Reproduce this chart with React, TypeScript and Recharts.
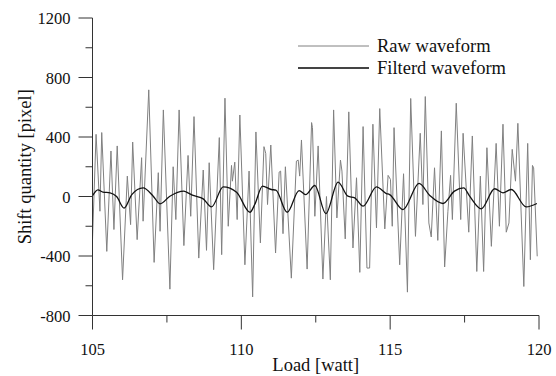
import { LineChart, Line, XAxis, YAxis, Legend } from 'recharts';

// raw waveform, read peak by peak off the picture
const rawLoad = [
  105.0, 105.12, 105.25, 105.31, 105.48, 105.62, 105.72, 105.83, 106.01, 106.17,
  106.28, 106.35, 106.5, 106.65, 106.7, 106.89, 107.07, 107.21, 107.27, 107.38,
  107.6, 107.71, 107.8, 107.91, 108.07, 108.21, 108.3, 108.41, 108.57, 108.72,
  108.83, 108.92, 109.07, 109.26, 109.34, 109.45, 109.56, 109.67, 109.7, 109.78,
  109.86, 109.95, 110.12, 110.26, 110.38, 110.49, 110.64, 110.76, 110.82, 110.88,
  110.99, 111.15, 111.27, 111.32, 111.4, 111.48, 111.68, 111.85, 111.91, 111.96,
  112.02, 112.21, 112.36, 112.39, 112.47, 112.58, 112.74, 112.86, 112.99, 113.1,
  113.21, 113.33, 113.38, 113.49, 113.61, 113.75, 113.87, 113.98, 114.09, 114.22,
  114.31, 114.42, 114.54, 114.65, 114.82, 114.93, 115.01, 115.07, 115.13, 115.32,
  115.45, 115.58, 115.69, 115.85, 116.01, 116.1, 116.18, 116.3, 116.38, 116.49,
  116.6, 116.72, 116.83, 116.94, 117.03, 117.09, 117.22, 117.37, 117.45, 117.64,
  117.76, 117.91, 118.03, 118.14, 118.25, 118.4, 118.56, 118.67, 118.79, 118.9,
  118.99, 119.1, 119.21, 119.29, 119.49, 119.62, 119.71, 119.78, 119.82, 119.94,
];
const rawShift = [
  -290, 418, -99, 430, -369, 306, -222, 340, -560, 137,
  -189, 366, -290, 261, -166, 717, -443, 160, -234, 582,
  -623, 200, -155, 582, -330, 276, -133, 537, -414, 178,
  -362, 227, -492, 396, -391, 661, -200, 209, 103, 231,
  -155, 548, -459, 171, -675, 434, -312, 335, 290, -54,
  346, -380, 164, 171, -250, 200, -549, 238, 245, 137,
  380, -488, 497, 463, -133, 340, -555, 0, -560, 582,
  -144, 245, 171, -285, 569, -346, 126, -510, 470, -481,
  -481, 486, -211, 591, -218, 142, 115, -200, 463, -459,
  153, -643, 659, -268, 425, -54, 672, -178, -272, 193,
  -295, 441, -474, -99, 142, -155, 627, -155, 425, -240,
  407, -504, 137, -504, 328, -335, 357, -200, 486, -240,
  -178, 317, 103, 492, -605, 357, -425, 209, 193, -402,
];

const filteredLoad = [
  105.0, 105.18, 105.35, 105.59, 105.81, 106.06, 106.32, 106.7, 107.04, 107.27,
  107.6, 108.07, 108.16, 108.38, 108.72, 109.0, 109.39, 109.84, 110.29, 110.45,
  110.71, 111.01, 111.16, 111.54, 111.94, 112.16, 112.47, 112.84, 113.25, 113.58,
  113.81, 114.09, 114.54, 114.87, 114.98, 115.43, 115.97, 116.33, 116.77, 117.16,
  117.47, 117.67, 118.06, 118.51, 118.79, 119.07, 119.57, 119.93,
];
const filteredShift = [
  5, 45, 30, 25, 0, -78, 13, 58, 2, -49,
  2, 36, 29, 7, -16, -70, 65, 29, -106, -54,
  70, 47, 43, -106, 40, 13, 74, -115, 97, 2,
  -9, -65, 65, 20, 13, -88, 88, 7, -47, 36,
  58, 2, -83, 52, 25, 47, -70, -47,
];

const xTicks = [105, 107.5, 110, 112.5, 115, 117.5, 120];
const yTicks = [-800, -600, -400, -200, 0, 200, 400, 600, 800, 1000, 1200];
const seriesNames = ['Raw waveform', 'Filterd waveform'];

const rawData = rawLoad.map((load, i) => ({ load, shift: rawShift[i] }));
const filteredData = filteredLoad.map((load, i) => ({ load, shift: filteredShift[i] }));

const font = "'Liberation Serif', 'Times New Roman', serif";
const axisColor = '#333';
const rawColor = '#808080';
const filteredColor = '#111';
const textStyle = { fontFamily: font, fill: '#111' };

const XTick = (props: any) => {
  const { x, y, payload } = props;
  const major = payload.value % 5 === 0;
  return (
    <g>
      <line x1={x} x2={x} y1={y} y2={y + (major ? 14 : 7)} stroke={axisColor} />
      {major && (
        <text x={x} y={y + 39} textAnchor="middle" fontSize={16.5} style={textStyle}>
          {payload.value}
        </text>
      )}
    </g>
  );
};

const YTick = (props: any) => {
  const { x, y, payload } = props;
  const major = payload.value % 400 === 0;
  return (
    <g>
      <line x1={x - (major ? 14 : 7)} x2={x} y1={y} y2={y} stroke={axisColor} />
      {major && (
        <text x={x - 22} y={y + 6} textAnchor="end" fontSize={16.5} style={textStyle}>
          {payload.value}
        </text>
      )}
    </g>
  );
};

const renderLegend = () => (
  <div style={{ fontFamily: font, fontSize: 18.5, color: '#111' }}>
    {seriesNames.map((name, i) => (
      <div key={name} style={{ display: 'flex', alignItems: 'center', height: 22 }}>
        <svg width={79} height={22}>
          <line x1={0} x2={71} y1={11} y2={11}
            stroke={i === 0 ? rawColor : '#444'} strokeWidth={i === 0 ? 1 : 1.8} />
        </svg>
        <span style={{ lineHeight: '22px', whiteSpace: 'nowrap' }}>{name}</span>
      </div>
    ))}
  </div>
);

const App = () => {
  return (
    <div style={{ position: 'absolute', left: 0, top: 0, width: 556, height: 376, background: '#fff' }}>
      <LineChart width={556} height={376} margin={{ top: 18, right: 17, bottom: 10.5, left: 5 }}>
        <XAxis
          type="number"
          dataKey="load"
          domain={[105, 120]}
          ticks={xTicks}
          interval={0}
          allowDataOverflow
          height={50}
          stroke={axisColor}
          tickSize={0}
          tickMargin={0}
          tickLine={false}
          tick={<XTick />}
          label={{
            content: (p: any) => {
              const vb = p.viewBox;
              return (
                <text x={vb.x + vb.width / 2} y={371} textAnchor="middle" fontSize={18.5} style={textStyle}>
                  Load [watt]
                </text>
              );
            },
          }}
        />
        <YAxis
          type="number"
          domain={[-800, 1200]}
          ticks={yTicks}
          interval={0}
          allowDataOverflow
          width={87.5}
          stroke={axisColor}
          tickSize={0}
          tickMargin={0}
          tickLine={false}
          tick={<YTick />}
          label={{
            content: (p: any) => {
              const vb = p.viewBox;
              const cy = vb.y + vb.height / 2;
              return (
                <text x={31} y={cy} transform={`rotate(-90 31 ${cy})`} textAnchor="middle" fontSize={18.5} style={textStyle}>
                  Shift quantity [pixel]
                </text>
              );
            },
          }}
        />
        <Legend
          content={renderLegend}
          layout="horizontal"
          verticalAlign="middle"
          align="center"
          wrapperStyle={{ top: 35, left: 298, width: 'auto' }}
        />
        <Line
          data={rawData}
          dataKey="shift"
          name={seriesNames[0]}
          type="linear"
          stroke={rawColor}
          strokeWidth={1}
          dot={false}
          activeDot={false}
          isAnimationActive={false}
        />
        <Line
          data={filteredData}
          dataKey="shift"
          name={seriesNames[1]}
          type="monotone"
          stroke={filteredColor}
          strokeWidth={1.3}
          dot={false}
          activeDot={false}
          isAnimationActive={false}
        />
      </LineChart>
    </div>
  );
};

export default App;
